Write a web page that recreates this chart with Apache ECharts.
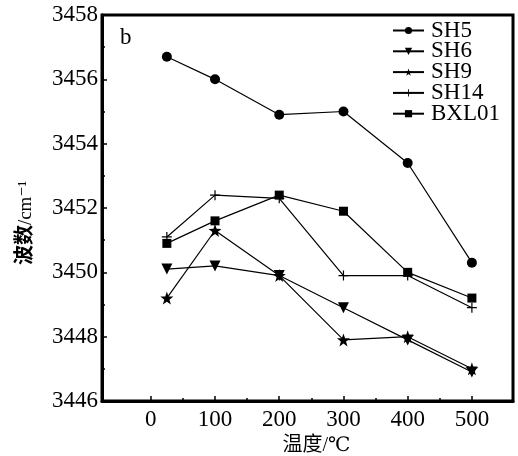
<!DOCTYPE html>
<html>
<head>
<meta charset="UTF-8">
<title>波数-温度</title>
<script src="https://cdn.jsdelivr.net/npm/echarts@6/dist/echarts.min.js"></script>
<style>
    html, body { margin: 0; padding: 0; background: #fff; }
    #main { width: 518px; height: 456px; }
</style>
</head>
<body>
<div id="main"></div>
<script>
    // 数据
    var temps = [25, 100, 200, 300, 400, 500];
    var sh5 = [3456.7, 3456.0, 3454.9, 3455.0, 3453.4, 3450.3];
    var sh6 = [3450.1, 3450.2, 3449.9, 3448.9, 3447.9, 3446.9];
    var sh9 = [3449.2, 3451.3, 3449.9, 3447.9, 3448.0, 3447.0];
    var sh14 = [3451.1, 3452.4, 3452.3, 3449.9, 3449.9, 3448.9];
    var bxl01 = [3450.9, 3451.6, 3452.4, 3451.9, 3450.0, 3449.2];
    var xMajor = [0, 100, 200, 300, 400, 500];
    var xMinor = [50, 150, 250, 350, 450];

    var serif = 'Liberation Serif, DejaVu Serif, Noto Sans CJK SC, serif';
    var star = 'path://M10,0L12.35,6.76L19.51,6.91L13.8,11.24L15.88,18.09L10,14L4.12,18.09L6.2,11.24L0.49,6.91L7.65,6.76Z';
    var plus = 'path://M4.4,0H5.6V10H4.4Z M0,4.4H10V5.6H0Z';

    function pairs(ys) {
        return temps.map(function (t, i) { return [t, ys[i]]; });
    }

    function line(name, ys, symbol, size, rotate) {
        return {
            name: name,
            type: 'line',
            data: pairs(ys),
            symbol: symbol,
            symbolSize: size,
            symbolRotate: rotate || 0,
            showAllSymbol: true,
            lineStyle: { color: '#000', width: 1.2 },
            itemStyle: { color: '#000', borderWidth: 0 },
            z: 3
        };
    }

    var chart = echarts.init(document.getElementById('main'));
    chart.setOption({
        animation: false,
        backgroundColor: '#fff',
        textStyle: { fontFamily: serif },
        title: {
            text: 'b',
            left: 115,
            top: 21,
            textStyle: { fontFamily: serif, fontSize: 23, fontWeight: 'normal', color: '#000' }
        },
        legend: {
            orient: 'vertical',
            left: 392,
            top: 19,
            padding: 0,
            itemWidth: 31,
            itemHeight: 9,
            itemGap: -2.2,
            textStyle: { fontFamily: serif, fontSize: 23, color: '#000', padding: [0, 0, 0, 2] },
            data: ['SH5', 'SH6', 'SH9', 'SH14', 'BXL01']
        },
        grid: {
            left: 102,
            right: 5,
            top: 15,
            bottom: 55,
            outerBoundsMode: 'none',
            containLabel: false,
            show: true,
            borderColor: '#000',
            borderWidth: 3
        },
        xAxis: [{
            type: 'value',
            min: -76,
            max: 564,
            name: '温度/℃',
            nameLocation: 'middle',
            nameGap: 34,
            nameTextStyle: { fontFamily: serif, fontSize: 20, color: '#000', padding: [0, 0, 0, 18] },
            axisLine: { show: true, onZero: false, lineStyle: { color: '#000', width: 3 } },
            axisTick: { show: true, inside: true, length: 5, customValues: xMajor, lineStyle: { color: '#000', width: 1.5 } },
            axisLabel: { customValues: xMajor, fontFamily: serif, fontSize: 23, color: '#000', margin: 7 },
            splitLine: { show: false }
        }, {
            type: 'value',
            min: -76,
            max: 564,
            position: 'bottom',
            axisLine: { show: false, onZero: false },
            axisTick: { show: true, inside: true, length: 3, customValues: xMinor, lineStyle: { color: '#000', width: 1.5 } },
            axisLabel: { show: false, customValues: xMinor },
            splitLine: { show: false }
        }],
        yAxis: {
            type: 'value',
            min: 3446,
            max: 3458,
            interval: 2,
            name: '{b|波数}{n|/cm⁻¹}',
            nameLocation: 'middle',
            nameGap: 66,
            nameRotate: 90,
            nameTextStyle: {
                padding: [0, 30, 0, 0],
                rich: {
                    b: { fontFamily: serif, fontSize: 20, fontWeight: 'bold', color: '#000' },
                    n: { fontFamily: serif, fontSize: 19, color: '#000' }
                }
            },
            axisLine: { show: true, onZero: false, lineStyle: { color: '#000', width: 3 } },
            axisTick: { show: true, inside: true, length: 5, lineStyle: { color: '#000', width: 1.5 } },
            minorTick: { show: true, splitNumber: 2, length: 3, lineStyle: { color: '#000', width: 1.5 } },
            axisLabel: {
                fontFamily: serif, fontSize: 23, color: '#000', margin: 4,
                formatter: function (v) { return String(v); }
            },
            splitLine: { show: false }
        },
        series: [
            line('SH5', sh5, 'circle', 10),
            line('SH6', sh6, 'triangle', 11, 180),
            line('SH9', sh9, star, 13),
            line('SH14', sh14, plus, 10),
            line('BXL01', bxl01, 'rect', 9)
        ]
    });
</script>
</body>
</html>
